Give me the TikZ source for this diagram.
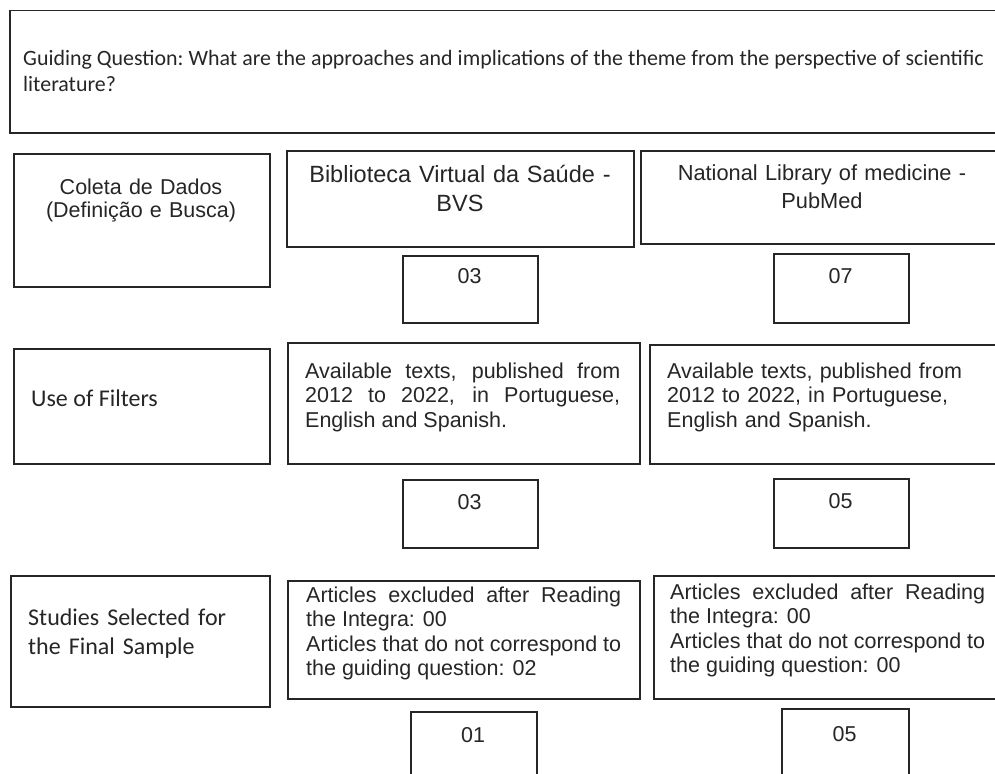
\documentclass[tikz,border=0pt]{standalone}
\usepackage{fontspec}
\setmainfont{Liberation Sans}
\newfontfamily\calib{Carlito}
\begin{document}
\begin{tikzpicture}[x=1pt,y=-1pt,
  bx/.style={draw=black!85, line width=1.5pt, inner sep=0pt, anchor=north west},
  ar/.style={font=\fontsize{21.5}{24.5}\selectfont, inner sep=0pt, text=black!85},
  cb/.style={font=\calib\fontsize{24}{29.5}\selectfont, inner sep=0pt, text=black!85},
  num/.style={ar, anchor=base},
]
\clip (0,0) rectangle (995,773);
\fill[white] (0,0) rectangle (995,773);

% guiding question
\node[bx, minimum width=1000pt, minimum height=122pt] (q) at (9,10) {};
\node[cb, font=\calib\fontsize{21.9}{25.5}\selectfont, anchor=base west, text width=1000pt, align=left] (qt) at (23,66)
  {\spaceskip=5.1pt\xspaceskip=5.1pt\mbox{Guiding Question: What are the approaches and implications of the theme from the perspective of scientific}\\literature?};

% row 1
\node[bx, minimum width=256pt, minimum height=133pt] (c1) at (13,153) {};
\node[ar, anchor=base, text width=256pt, align=center, font=\fontsize{21.5}{23.5}\selectfont] (c1t) at (141,194)
  {Coleta de Dados\\(Definição e Busca)};
\node[bx, minimum width=347pt, minimum height=96pt] (b1) at (286,150) {};
\node[ar, anchor=base, text width=347pt, align=center, font=\fontsize{23.5}{29}\selectfont] (b1t) at (460,182)
  {Biblioteca Virtual da Saúde -\\BVS};
\node[bx, minimum width=360pt, minimum height=93pt] (p1) at (640,150) {};
\node[ar, anchor=base, text width=340pt, align=center, font=\fontsize{21.8}{28}\selectfont] (p1t) at (822,180)
  {National Library of medicine -\\PubMed};
\node[bx, minimum width=135pt, minimum height=67pt] (n1a) at (402,255) {};
\node[num] (n1at) at (469.5,283) {03};
\node[bx, minimum width=135pt, minimum height=69pt] (n1b) at (773,253) {};
\node[num] (n1bt) at (840.5,283) {07};

% row 2
\node[bx, minimum width=256pt, minimum height=115pt] (c2) at (13,348) {};
\node[cb, anchor=base west] (c2t) at (31,406) {Use of Filters};
\node[bx, minimum width=352pt, minimum height=121pt] (b2) at (287,342) {};
\node[ar, anchor=base west, text width=315pt, align=justify] (b2t) at (305,378)
  {Available texts, published from\linebreak 2012 to 2022, in Portuguese,\linebreak English and Spanish.};
\node[bx, minimum width=360pt, minimum height=119pt] (p2) at (649,344) {};
\node[ar, anchor=base west, text width=315pt, align=left] (p2t) at (667,378)
  {Available texts, published from\\2012 to 2022, in Portuguese,\\English and Spanish.};
\node[bx, minimum width=135pt, minimum height=68pt] (n2a) at (402,479) {};
\node[num] (n2at) at (469.5,509) {03};
\node[bx, minimum width=135pt, minimum height=69pt] (n2b) at (773,478) {};
\node[num] (n2bt) at (840.5,508) {05};

% row 3
\node[bx, minimum width=259pt, minimum height=131pt] (c3) at (10,575) {};
\node[cb, anchor=base west, text width=240pt, align=left] (c3t) at (28,625)
  {Studies Selected for\\the Final Sample};
\node[bx, minimum width=352pt, minimum height=118pt] (b3) at (287,580) {};
\node[ar, anchor=base west, text width=315pt, align=justify] (b3t) at (306,602)
  {Articles excluded after Reading\linebreak the Integra: 00\\Articles that do not correspond to\linebreak the guiding question: 02};
\node[bx, minimum width=360pt, minimum height=123pt] (p3) at (653,575) {};
\node[ar, anchor=base west, text width=315pt, align=justify] (p3t) at (670,599)
  {Articles excluded after Reading\linebreak the Integra: 00\\Articles that do not correspond to\linebreak the guiding question: 00};
\node[bx, minimum width=126pt, minimum height=90pt] (n3a) at (410,711) {};
\node[num] (n3at) at (473,742) {01};
\node[bx, minimum width=127pt, minimum height=90pt] (n3b) at (781,708) {};
\node[num] (n3bt) at (844.5,741) {05};
\end{tikzpicture}
\end{document}
